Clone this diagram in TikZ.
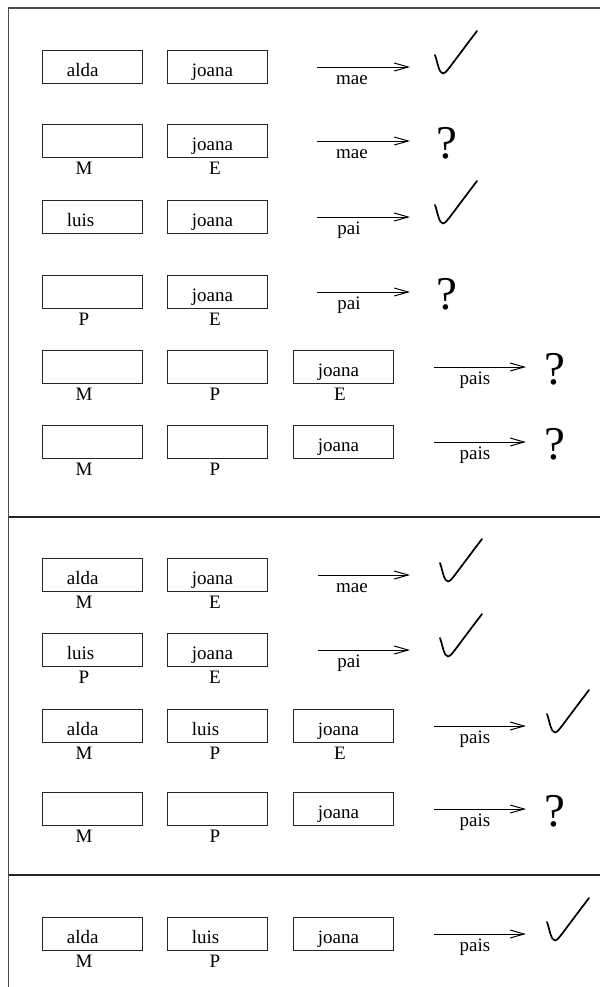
\documentclass[tikz,border=0pt]{standalone}
\usepackage{fontspec}
\setmainfont{Liberation Serif}
\usetikzlibrary{arrows.meta}
\tikzset{
  cellbox/.style={draw=black!85, line width=0.5pt, minimum width=50pt, minimum height=16.5pt, inner sep=0pt},
  celltext/.style={font=\fontsize{9.5}{11}\selectfont, inner sep=0pt, anchor=base west},
  lbl/.style={font=\fontsize{9.5}{11}\selectfont, inner sep=0pt, anchor=base},
  arr/.style={-{Straight Barb[length=7pt,width=4pt]}, line width=0.5pt},
  qmark/.style={font=\fontsize{23.5}{24}\selectfont, inner sep=0pt, anchor=base},
  ckstyle/.style={line width=0.85pt, line cap=round, line join=round},
  framel/.style={line width=0.75pt, draw=black!70}
}
% name, left x, top y
\newcommand\mkcell[3]{\node[cellbox] (#1) at ({#2+50},{#3+16.5}) {};}
% name, box name, text
\newcommand\mktxt[3]{\node[celltext] (#1) at ([xshift=12.5pt,yshift=3.5pt]#2.south west) {#3};}
% name, centre x, top y, text
\newcommand\mklbl[4]{\node[lbl] (#1) at (#2,{#3+50}) {#4};}
% name, x1, x2, top y, label, label centre x
\newcommand\mkarr[6]{\coordinate (#1s) at (#2,{#4+17}); \coordinate (#1e) at (#3,{#4+17});
  \draw[arr] (#1s) -- (#1e); \node[lbl] (#1l) at (#6,{#4+34}) {#5};}
% name, left x, top y
\newcommand\mkcheck[3]{\coordinate (#1) at (#2,{#3+5});
  \begin{scope}[shift={(#1)}]
    \draw[ckstyle] (0,0) .. controls (2.5,7) and (4,18.5) .. (8,18.5) .. controls (11,18.5) and (13,14) .. (42,-24);
  \end{scope}}
% name, centre x, top y
\newcommand\mkq[3]{\node[qmark] (#1) at (#2,{#3+34.5}) {?};}
\begin{document}
\begin{tikzpicture}[x=0.5pt,y=-0.5pt]
\useasboundingbox (0,0) rectangle (600,987);
% frame
\coordinate (ftl) at (8.5,8);
\coordinate (ftr) at (600,8);
\coordinate (fbl) at (8.5,987);
\coordinate (d1l) at (8.5,517);
\coordinate (d1r) at (600,517);
\coordinate (d2l) at (8.5,875);
\coordinate (d2r) at (600,875);
\draw[framel] (ftr) -- (ftl) -- (fbl);
\draw[framel, draw=black!85] (d1l) -- (d1r);
\draw[framel, draw=black!85] (d2l) -- (d2r);

% row 1
\mkcell{r1a}{42}{50}\mktxt{r1at}{r1a}{alda}
\mkcell{r1b}{167}{50}\mktxt{r1bt}{r1b}{joana}
\mkarr{r1x}{317}{410}{50}{mae}{352}
\mkcheck{r1c}{435}{50}
% row 2
\mkcell{r2a}{42}{124}
\mkcell{r2b}{167}{124}\mktxt{r2bt}{r2b}{joana}
\mklbl{r2al}{84}{124}{M}\mklbl{r2bl}{215}{124}{E}
\mkarr{r2x}{317}{410}{124}{mae}{352}
\mkq{r2q}{447}{124}
% row 3
\mkcell{r3a}{42}{200}\mktxt{r3at}{r3a}{luis}
\mkcell{r3b}{167}{200}\mktxt{r3bt}{r3b}{joana}
\mkarr{r3x}{317}{410}{200}{pai}{349}
\mkcheck{r3c}{435}{200}
% row 4
\mkcell{r4a}{42}{275}
\mkcell{r4b}{167}{275}\mktxt{r4bt}{r4b}{joana}
\mklbl{r4al}{84}{275}{P}\mklbl{r4bl}{215}{275}{E}
\mkarr{r4x}{317}{410}{275}{pai}{349}
\mkq{r4q}{447}{275}
% row 5
\mkcell{r5a}{42}{350}
\mkcell{r5b}{167}{350}
\mkcell{r5c}{293}{350}\mktxt{r5ct}{r5c}{joana}
\mklbl{r5al}{84}{350}{M}\mklbl{r5bl}{215}{350}{P}\mklbl{r5cl}{340}{350}{E}
\mkarr{r5x}{434}{526}{350}{pais}{475}
\mkq{r5q}{555}{350}
% row 6
\mkcell{r6a}{42}{425}
\mkcell{r6b}{167}{425}
\mkcell{r6c}{293}{425}\mktxt{r6ct}{r6c}{joana}
\mklbl{r6al}{84}{425}{M}\mklbl{r6bl}{215}{425}{P}
\mkarr{r6x}{434}{526}{425}{pais}{475}
\mkq{r6q}{555}{425}
% row 7
\mkcell{r7a}{42}{558}\mktxt{r7at}{r7a}{alda}
\mkcell{r7b}{167}{558}\mktxt{r7bt}{r7b}{joana}
\mklbl{r7al}{84}{558}{M}\mklbl{r7bl}{215}{558}{E}
\mkarr{r7x}{318}{410}{558}{mae}{352}
\mkcheck{r7c}{440}{558}
% row 8
\mkcell{r8a}{42}{633}\mktxt{r8at}{r8a}{luis}
\mkcell{r8b}{167}{633}\mktxt{r8bt}{r8b}{joana}
\mklbl{r8al}{84}{633}{P}\mklbl{r8bl}{215}{633}{E}
\mkarr{r8x}{318}{410}{633}{pai}{349}
\mkcheck{r8c}{440}{633}
% row 9
\mkcell{r9a}{42}{709}\mktxt{r9at}{r9a}{alda}
\mkcell{r9b}{167}{709}\mktxt{r9bt}{r9b}{luis}
\mkcell{r9c}{293}{709}\mktxt{r9ct}{r9c}{joana}
\mklbl{r9al}{84}{709}{M}\mklbl{r9bl}{215}{709}{P}\mklbl{r9cl}{340}{709}{E}
\mkarr{r9x}{434}{526}{709}{pais}{475}
\mkcheck{r9k}{547}{709}
% row 10
\mkcell{r10a}{42}{792}
\mkcell{r10b}{167}{792}
\mkcell{r10c}{293}{792}\mktxt{r10ct}{r10c}{joana}
\mklbl{r10al}{84}{792}{M}\mklbl{r10bl}{215}{792}{P}
\mkarr{r10x}{434}{526}{792}{pais}{475}
\mkq{r10q}{555}{792}
% row 11
\mkcell{r11a}{42}{917}\mktxt{r11at}{r11a}{alda}
\mkcell{r11b}{167}{917}\mktxt{r11bt}{r11b}{luis}
\mkcell{r11c}{293}{917}\mktxt{r11ct}{r11c}{joana}
\mklbl{r11al}{84}{917}{M}\mklbl{r11bl}{215}{917}{P}
\mkarr{r11x}{434}{526}{917}{pais}{475}
\mkcheck{r11k}{547}{917}
\end{tikzpicture}
\end{document}
